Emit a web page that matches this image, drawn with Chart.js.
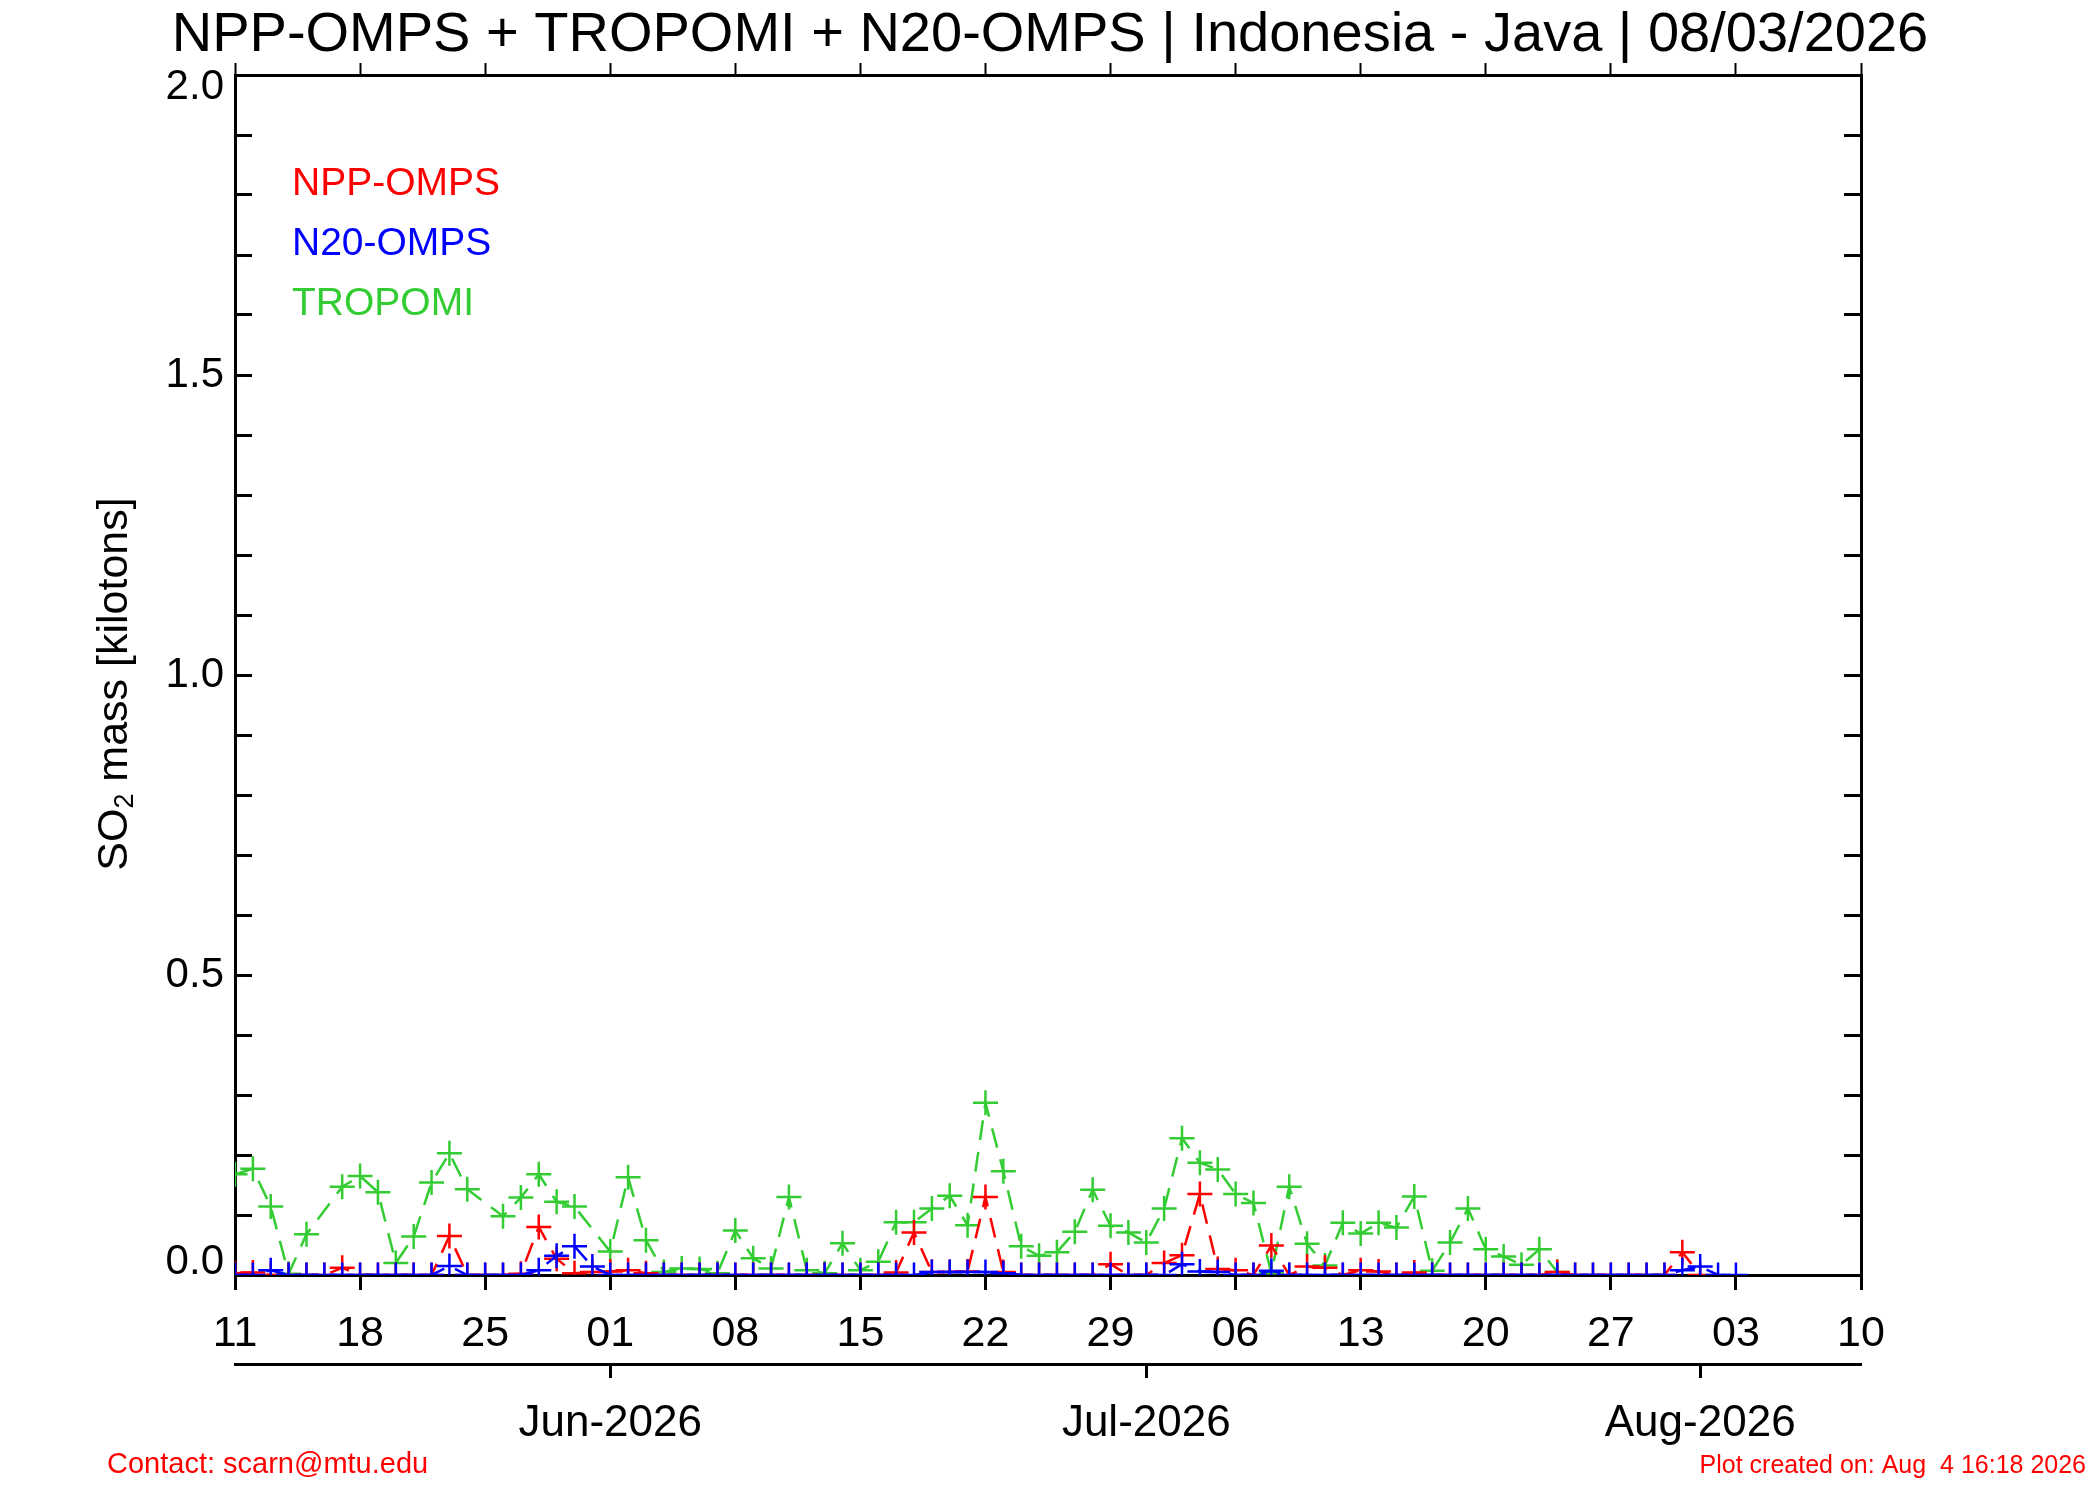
<!DOCTYPE html>
<html>
<head>
<meta charset="utf-8">
<title>SO2 mass - Indonesia - Java</title>
<script src="https://cdn.jsdelivr.net/npm/chart.js@4.4.1/dist/chart.umd.min.js"></script>
<style>
  html, body { margin: 0; padding: 0; background: #fff; }
  #wrap { width: 2100px; height: 1500px; }
</style>
</head>
<body>
<div id="wrap"><canvas id="so2Chart" width="2100" height="1500"></canvas></div>
<script>
  // x axis is "days since 11 May 2026", one value per day in every series
  const weekTickLabels = ['11', '18', '25', '01', '08', '15', '22', '29', '06', '13', '20', '27', '03', '10'];
  const monthTickDays = [21, 51, 82];
  const monthTickLabels = ['Jun-2026', 'Jul-2026', 'Aug-2026'];

  const nppOmps = [
    0.003, 0.004, 0, 0, 0, 0, 0.012, 0, 0, 0,
    0, 0, 0.065, 0, 0, 0, 0.002, 0.080, 0.027, 0.003,
    0.005, 0.006, 0.008, 0.003, 0, 0, 0, 0, 0, 0,
    0, 0, 0, 0, 0, 0, 0, 0.004, 0.071, 0.005,
    0.005, 0.006, 0.130, 0.005, 0, 0, 0, 0, 0, 0.018,
    0, 0, 0.020, 0.033, 0.135, 0.010, 0.008, 0, 0.049, 0,
    0.014, 0.012, 0, 0.008, 0.006, 0, 0.004, 0, 0, 0,
    0, 0, 0, 0, 0.005, 0, 0, 0, 0, 0,
    0, 0.038, 0
  ];
  const n20Omps = [
    0, 0, 0.008, 0, 0, 0, 0, 0, 0, 0,
    0, 0, 0.015, 0, 0, 0, 0, 0.008, 0.032, 0.048,
    0.014, 0, 0, 0, 0, 0, 0, 0, 0, 0,
    0, 0, 0, 0, 0, 0, 0, 0, 0, 0.005,
    0.005, 0.005, 0.005, 0.003, 0, 0, 0, 0, 0, 0,
    0, 0, 0, 0.018, 0.006, 0.005, 0, 0, 0.007, 0,
    0, 0, 0, 0, 0, 0, 0, 0, 0, 0,
    0, 0, 0, 0, 0, 0, 0, 0, 0, 0,
    0, 0.008, 0.014, 0, 0
  ];
  const tropomi = [
    0.168, 0.177, 0.114, 0.002, 0.068, null, 0.147, 0.165, 0.138, 0.020,
    0.064, 0.154, 0.203, 0.143, null, 0.098, 0.129, 0.168, 0.122, 0.114,
    null, 0.039, 0.163, 0.058, 0.005, 0.011, 0.010, 0.003, 0.074, 0.028,
    0.011, 0.130, 0.008, 0.003, 0.053, 0.008, 0.022, 0.088, 0.088, 0.111,
    0.132, 0.083, 0.287, 0.173, 0.048, 0.032, 0.038, 0.072, 0.142, 0.082,
    0.071, 0.054, 0.111, 0.228, 0.187, 0.176, 0.135, 0.120, 0.003, 0.147,
    0.052, 0.016, 0.087, 0.069, 0.087, 0.079, 0.131, 0.007, 0.054, 0.111,
    0.043, 0.031, 0.017, 0.043, 0.005
  ];

  const titleText = 'NPP-OMPS + TROPOMI + N20-OMPS | Indonesia - Java | 08/03/2026';
  const FONT = '"Liberation Sans", Arial, Helvetica, sans-serif';

  Chart.defaults.font.family = FONT;
  Chart.defaults.color = '#000';

  const toPoints = arr => arr.map((v, i) => ({ x: i, y: v }));

  function series(label, values, color, order) {
    return {
      label: label,
      data: toPoints(values),
      order: order,
      borderColor: color,
      backgroundColor: color,
      borderWidth: 2.5,
      borderDash: [20, 12],
      pointStyle: 'cross',
      pointRadius: 12.5,
      pointBorderWidth: 2.5,
      pointBorderColor: color,
      tension: 0,
      fill: false,
      spanGaps: true,
      clip: 0
    };
  }

  const axisLine = { display: true, color: '#000', width: 3 };

  // legend, titles and footer notes
  const textPlugin = {
    id: 'texts',
    afterDraw(chart) {
      const ctx = chart.ctx;
      const area = chart.chartArea;
      ctx.save();
      ctx.fillStyle = '#000';
      ctx.textAlign = 'center';
      ctx.textBaseline = 'alphabetic';
      ctx.font = '56px ' + FONT;
      ctx.fillText(titleText, 1050, 51);

      // legend: coloured names only
      ctx.textAlign = 'left';
      ctx.font = '39px ' + FONT;
      chart.data.datasets.forEach((ds, i) => {
        ctx.fillStyle = ds.borderColor;
        ctx.fillText(ds.label, area.left + 57, area.top + 120 + i * 60);
      });

      // y axis title with subscript
      ctx.save();
      ctx.translate(115, 684);
      ctx.rotate(-Math.PI / 2);
      ctx.fillStyle = '#000';
      ctx.textBaseline = 'middle';
      const big = '43px ' + FONT, small = '27px ' + FONT;
      ctx.font = big;
      const w1 = ctx.measureText('SO').width;
      const w3 = ctx.measureText(' mass [kilotons]').width;
      ctx.font = small;
      const w2 = ctx.measureText('2').width;
      let x = -(w1 + w2 + w3) / 2;
      ctx.font = big;
      ctx.fillText('SO', x, 0);
      x += w1;
      ctx.font = small;
      ctx.fillText('2', x, 11);
      x += w2;
      ctx.font = big;
      ctx.fillText(' mass [kilotons]', x, 0);
      ctx.restore();

      ctx.fillStyle = '#ff0000';
      ctx.textAlign = 'left';
      ctx.font = '29px ' + FONT;
      ctx.fillText('Contact: scarn@mtu.edu', 107, 1473);
      ctx.textAlign = 'right';
      ctx.font = '25px ' + FONT;
      ctx.fillText('Plot created on: Aug  4 16:18 2026', 2086, 1473);
      ctx.restore();
    }
  };

  const yTickLabel = (value) => {
    const t = Math.round(value * 10);
    if (t % 5 !== 0) return '';
    const s = (t / 10).toFixed(1);
    if (t === 20) return ['', s];
    if (t === 0) return [s, ''];
    return s;
  };

  new Chart(document.getElementById('so2Chart'), {
    type: 'line',
    data: {
      datasets: [
        series('NPP-OMPS', nppOmps, '#ff0000', 1),
        series('N20-OMPS', n20Omps, '#0000ff', 0),
        series('TROPOMI', tropomi, '#33cc33', 2)
      ]
    },
    options: {
      responsive: false,
      devicePixelRatio: 1,
      animation: false,
      layout: { padding: { left: 0, right: 209, top: 45, bottom: 0 } },
      plugins: {
        legend: { display: false },
        tooltip: { enabled: false },
        title: { display: false }
      },
      scales: {
        x: {
          type: 'linear', position: 'bottom', min: 0, max: 91, weight: 0,
          afterBuildTicks: s => { s.ticks = weekTickLabels.map((l, i) => ({ value: i * 7 })); },
          ticks: {
            autoSkip: false, maxRotation: 0, padding: 23,
            font: { size: 43, lineHeight: 1 },
            callback: (v, i) => weekTickLabels[i]
          },
          grid: { drawOnChartArea: false, drawTicks: true, tickLength: 15, tickWidth: 3, tickColor: '#000' },
          border: axisLine,
          afterFit: s => { s.height = 89; }
        },
        x2: {
          type: 'linear', position: 'bottom', min: 0, max: 91, weight: 1,
          afterBuildTicks: s => { s.ticks = monthTickDays.map(d => ({ value: d })); },
          ticks: {
            autoSkip: false, maxRotation: 0, padding: 24,
            font: { size: 44, lineHeight: 1 },
            callback: (v, i) => monthTickLabels[i]
          },
          grid: { drawOnChartArea: false, drawTicks: true, tickLength: 14, tickWidth: 3, tickColor: '#000' },
          border: axisLine,
          afterFit: s => { s.height = 136; }
        },
        xTop: {
          type: 'linear', position: 'top', min: 0, max: 91,
          afterBuildTicks: s => { s.ticks = weekTickLabels.map((l, i) => ({ value: i * 7 })); },
          ticks: { display: false },
          grid: { drawOnChartArea: false, drawTicks: true, tickLength: 12, tickWidth: 2, tickColor: '#000' },
          border: axisLine,
          afterFit: s => { s.height = 30; }
        },
        y: {
          type: 'linear', position: 'left', min: 0, max: 2,
          ticks: {
            stepSize: 0.1, autoSkip: false, padding: 28,
            font: { size: 42, lineHeight: 0.6 },
            callback: yTickLabel
          },
          grid: { drawOnChartArea: false, drawTicks: true, tickLength: -17, tickWidth: 3, tickColor: '#000' },
          border: axisLine,
          afterFit: s => { s.width = 235; }
        },
        yRight: {
          type: 'linear', position: 'right', min: 0, max: 2,
          ticks: { stepSize: 0.1, display: false },
          grid: { drawOnChartArea: false, drawTicks: true, tickLength: -17, tickWidth: 3, tickColor: '#000' },
          border: axisLine,
          afterFit: s => { s.width = 30; }
        }
      }
    },
    plugins: [textPlugin]
  });
</script>
</body>
</html>
